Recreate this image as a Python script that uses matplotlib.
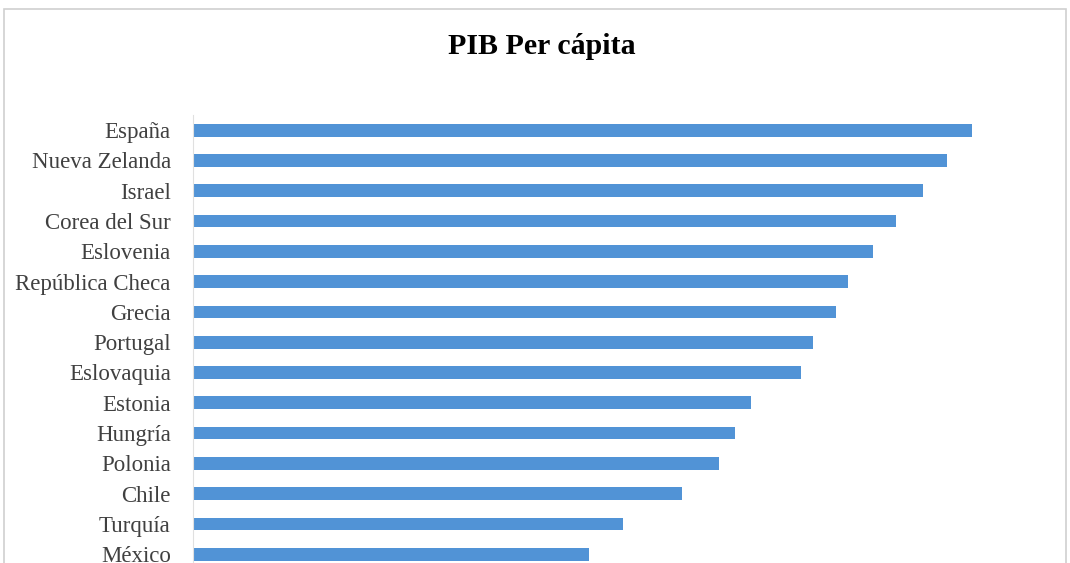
import matplotlib.pyplot as plt
from matplotlib.patches import Rectangle

plt.rcParams['font.family'] = ['Liberation Serif', 'DejaVu Serif']

# datos (miles de USD aprox.)
paises = ['España', 'Nueva Zelanda', 'Israel', 'Corea del Sur', 'Eslovenia',
          'República Checa', 'Grecia', 'Portugal', 'Eslovaquia', 'Estonia',
          'Hungría', 'Polonia', 'Chile', 'Turquía', 'México']
pib_pc = [39.0, 37.75, 36.55, 35.2, 34.05, 32.8, 32.2, 31.05, 30.45, 27.95,
          27.15, 26.35, 24.5, 21.55, 19.8]

W, H = 1070, 563
fig = plt.figure(figsize=(W / 100, H / 100), dpi=100)

# marco del gráfico (cortado por abajo)
fig.patches.append(Rectangle((4 / W, -0.05), 1062 / W, 1.05 - 9 / H,
                             transform=fig.transFigure, fill=False,
                             edgecolor='#d0d0d0', linewidth=1.2))

# ejes en píxeles: izquierda 193, arriba 115, abajo fuera de la imagen
ax = fig.add_axes([193 / W, 0, (1040 - 193) / W, (H - 115) / H])
y = list(range(len(paises)))
ax.barh(y, pib_pc, height=0.42, color='#5193d6')
ax.set_ylim(14.29, -0.5)
ax.set_xlim(0, 42.4)
ax.set_yticks(y)
ax.set_yticklabels(paises, fontsize=16.5, color='#404040')
ax.tick_params(axis='y', length=0, pad=16)
ax.set_xticks([])
for s in ['top', 'right', 'bottom']:
    ax.spines[s].set_visible(False)
ax.spines['left'].set_color('#e0e0e0')

fig.text(542 / W, 1 - 46 / H, 'PIB Per cápita', ha='center', va='center',
         fontsize=21.5, fontweight='bold')

plt.savefig('out.png', dpi=100)
